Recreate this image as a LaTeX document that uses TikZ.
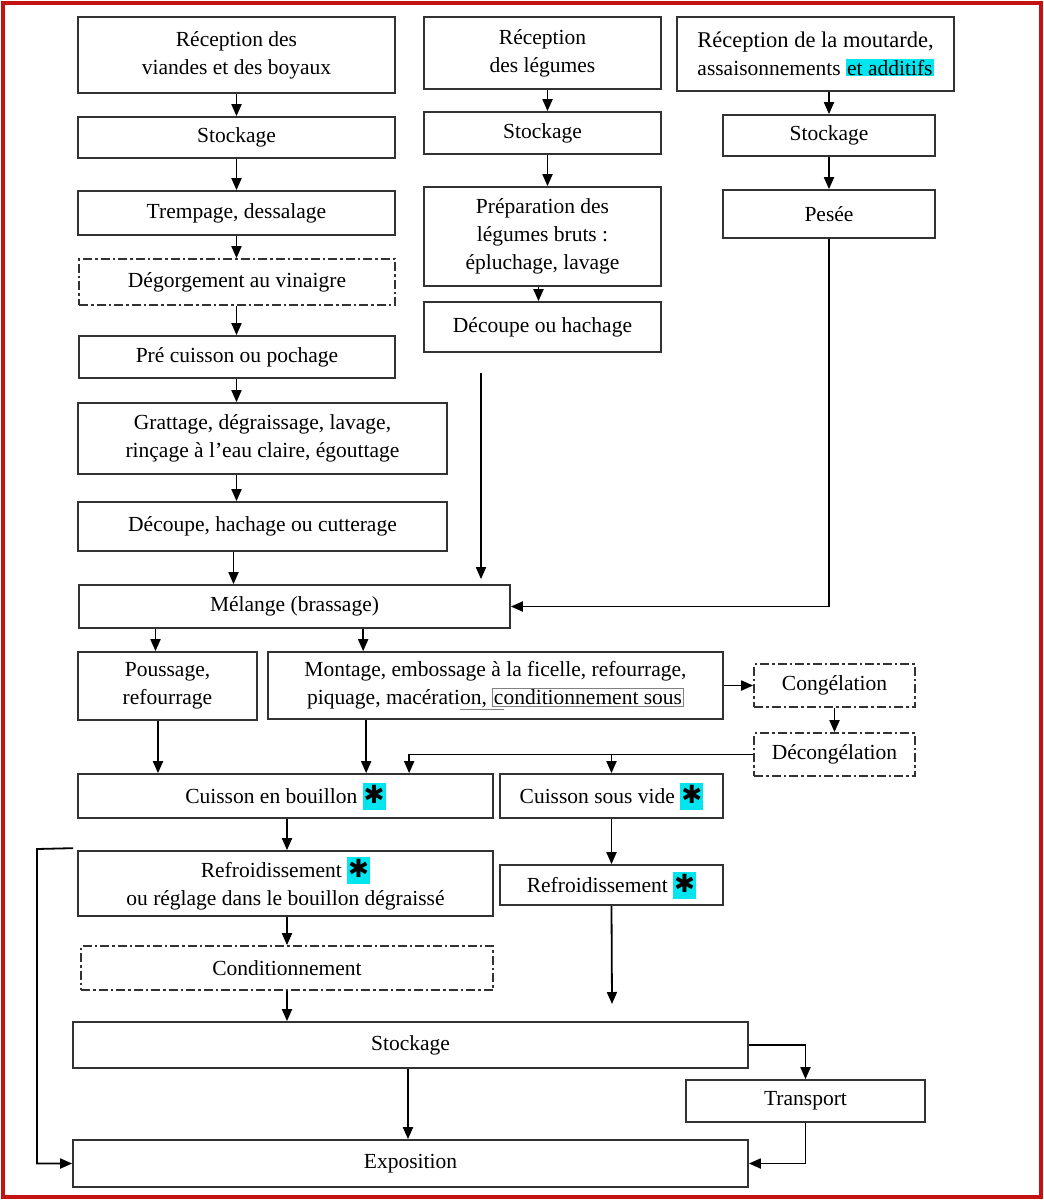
\documentclass[tikz,border=0pt]{standalone}
\usepackage{fontspec}
\setmainfont{Liberation Serif}
\newfontfamily\symfont{DejaVu Sans}
\usetikzlibrary{arrows.meta,calc}
\definecolor{hl}{RGB}{0,229,238}
\definecolor{frame}{RGB}{196,18,18}
\definecolor{bline}{RGB}{50,50,50}
\newcommand\hlstar{{\setlength{\fboxsep}{0pt}\colorbox{hl}{\makebox[23pt]{\rule[-6pt]{0pt}{27pt}{\symfont\fontsize{25}{28}\selectfont ✱}}}}}
\newcommand\hltext[1]{{\setlength{\fboxsep}{1pt}\colorbox{hl}{#1}}}
\newcommand\grayframe[1]{{\setlength{\fboxsep}{1pt}\setlength{\fboxrule}{0.7pt}\textcolor{gray}{\fbox{\textcolor{black}{#1}}}}}
\tikzset{
  box/.style={draw=bline, line width=1.7pt, fill=white, inner sep=0pt, align=center,
    font=\fontsize{21.5}{28}\selectfont},
  dbox/.style={box, dash pattern=on 9pt off 3pt on 2.5pt off 3pt},
  arr/.style={draw=black, line width=1.8pt, -{Triangle[length=12pt,width=10pt]}},
}
\begin{document}
\begin{tikzpicture}[x=1pt,y=-1pt]
\useasboundingbox (0,0) rectangle (1044,1200);
\draw[frame, line width=3.5pt] (3,3) rectangle (1041,1197);

% column 1
\node[box,minimum width=317,minimum height=76] (rv) at (236.5,55) {Réception des\\viandes et des boyaux};
\node[box,minimum width=317,minimum height=41] (s1) at (236.5,137.5) {Stockage};
\node[box,minimum width=317,minimum height=44] (tr) at (236.5,213) {Trempage, dessalage};
\node[dbox,minimum width=316,minimum height=46] (dg) at (237,282) {Dégorgement au vinaigre};
\node[box,minimum width=316,minimum height=42] (pc) at (237,357) {Pré cuisson ou pochage};
\node[box,minimum width=369,minimum height=71] (gr) at (262.5,438.5) {Grattage, dégraissage, lavage,\\rinçage à l’eau claire, égouttage};
\node[box,minimum width=369,minimum height=49] (dc) at (262.5,526.5) {Découpe, hachage ou cutterage};

% column 2
\node[box,minimum width=237,minimum height=72] (rl) at (542.5,53) {Réception\\des légumes};
\node[box,minimum width=237,minimum height=42] (s2) at (542.5,133) {Stockage};
\node[box,minimum width=237,minimum height=99] (pl) at (542.5,236.5) {Préparation des\\légumes bruts :\\épluchage, lavage};
\node[box,minimum width=237,minimum height=50] (dh) at (542.5,327) {Découpe ou hachage};

% column 3
\node[box,minimum width=277,minimum height=74] (rm) at (815.5,54) {{\fontsize{22.5}{28}\selectfont Réception de la moutarde,}\\assaisonnements \hltext{et additifs}};
\node[box,minimum width=212,minimum height=41] (s3) at (829,135.5) {Stockage};
\node[box,minimum width=212,minimum height=48] (pe) at (829,214) {Pesée};

% middle
\node[box,minimum width=431,minimum height=43] (me) at (294.5,606.5) {Mélange (brassage)};
\node[box,minimum width=179,minimum height=68] (po) at (167.5,686) {Poussage,\\refourrage};
\node[box,minimum width=455,minimum height=67] (mo) at (495.5,685.5) {Montage, embossage à la ficelle, refourrage,\\piquage, macérati\makebox[0pt][l]{\raisebox{-5pt}{\textcolor{gray}{\rule{44pt}{0.8pt}}}}on, \grayframe{conditionnement sous}};
\node[dbox,minimum width=161,minimum height=43] (cg) at (834.5,685.5) {Congélation};
\node[dbox,minimum width=161,minimum height=43] (dcg) at (834.5,754.5) {Décongélation};

\node[box,minimum width=415,minimum height=44] (cb) at (285.5,796) {Cuisson en bouillon \hlstar};
\node[box,minimum width=223,minimum height=44] (cv) at (611.5,796) {Cuisson sous vide \hlstar};
\node[box,minimum width=415,minimum height=65] (rf) at (285.5,883.5) {Refroidissement \hlstar\\ou réglage dans le bouillon dégraissé};
\node[box,minimum width=223,minimum height=40] (rr) at (611.5,885) {Refroidissement \hlstar};
\node[dbox,minimum width=412,minimum height=44] (co) at (287,968) {Conditionnement};

\node[box,minimum width=675,minimum height=46] (st) at (410.5,1045) {Stockage};
\node[box,minimum width=239,minimum height=42] (tp) at (805.5,1101) {Transport};
\node[box,minimum width=675,minimum height=47] (ex) at (410.5,1163.5) {Exposition};

% free ends
\coordinate (dhx) at (481,373);
\coordinate (rre) at (612,1004);
\coordinate (lpa) at (37,849);

% arrows column 1
\draw[arr] (rv.south) -- (s1.north);
\draw[arr] (s1.south) -- (tr.north);
\draw[arr] (tr.south) -- (dg.north -| tr.south);
\draw[arr] (dg.south -| tr.south) -- (pc.north -| tr.south);
\draw[arr] (pc.south -| tr.south) -- (gr.north -| tr.south);
\draw[arr] (gr.south -| tr.south) -- (dc.north -| tr.south);
\draw[arr] ($(dc.south -| tr.south)+(-3,0)$) -- ($(me.north -| tr.south)+(-3,0)$);

% column 2
\draw[arr] ($(rl.south)+(5,0)$) -- ($(s2.north)+(5,0)$);
\draw[arr] ($(s2.south)+(5,0)$) -- ($(pl.north)+(5,0)$);
\draw[arr] ($(pl.south)+(-4,0)$) -- ($(dh.north)+(-4,0)$);
\draw[arr] (dhx) -- ($(dhx |- me.north)+(0,-5)$);

% column 3
\draw[arr] (s3.north |- rm.south) -- (s3.north);
\draw[arr] (s3.south) -- (pe.north);
\draw[arr] (pe.south) |- (me.east);

% after melange
\draw[arr] ($(me.south -| po.north)+(-12,0)$) -- ($(po.north)+(-12,0)$);
\draw[arr] ($(me.south -| mo.north west)+(96,0)$) -- ($(mo.north west)+(96,0)$);
\draw[arr] (mo.east) -- (cg.west);
\draw[arr] (cg.south) -- (dcg.north);
\draw[arr] (dcg.west) -| ($(cb.north west)+(332,0)$);
\draw[arr] (dcg.west -| cv.north) -- (cv.north);
\draw[arr] ($(po.south)+(-9.5,0)$) -- ($(po.south |- cb.north)+(-9.5,0)$);
\draw[arr] ($(mo.south west)+(99,0)$) -- ($(mo.south west |- cb.north)+(99,0)$);

% cooking
\draw[arr] ($(cb.south)+(1.5,0)$) -- ($(rf.north)+(1.5,0)$);
\draw[arr] (cv.south) -- (rr.north);
\draw[arr] (rr.south) -- (rre);
\draw[arr] (rf.south -| co.north) -- (co.north);
\draw[arr] (co.south) -- (co.south |- st.north);

% loop to exposition
\draw[arr] ($(rf.north west)+(-4,-2)$) -- (lpa) |- (ex.west);

% bottom
\draw[arr] ($(st.south)+(-2.5,0)$) -- ($(ex.north)+(-2.5,0)$);
\draw[arr] (st.east) -| (tp.north);
\draw[arr] (tp.south) |- (ex.east);
\end{tikzpicture}
\end{document}
